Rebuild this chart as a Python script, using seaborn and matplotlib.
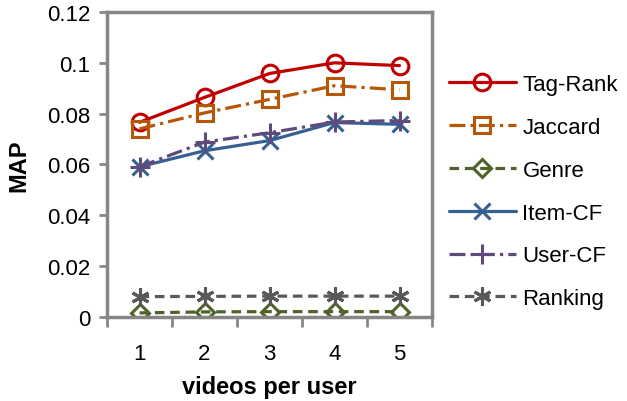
import matplotlib
matplotlib.use("Agg")
import matplotlib.pyplot as plt
import seaborn as sns
import pandas as pd
from matplotlib.ticker import FixedLocator, FuncFormatter

# data
videos = [1, 2, 3, 4, 5]
tag_rank = [0.0766, 0.0864, 0.0958, 0.1000, 0.0989]
jaccard = [0.0740, 0.0803, 0.0856, 0.0910, 0.0894]
genre = [0.0016, 0.0020, 0.0021, 0.0021, 0.0021]
item_cf = [0.0591, 0.0654, 0.0694, 0.0765, 0.0758]
user_cf = [0.0591, 0.0688, 0.0725, 0.0767, 0.0773]
ranking = [0.0080, 0.0081, 0.0082, 0.0082, 0.0082]

y_ticks = [0, 0.02, 0.04, 0.06, 0.08, 0.1, 0.12]

# name, values, colour, marker, marker size, dash pattern
series = [
    ("Tag-Rank", tag_rank, "#C00000", "o", 12, None),
    ("Jaccard", jaccard, "#B65708", "s", 11, (5, 1.6, 1, 1.6)),
    ("Genre", genre, "#4F6228", "D", 9, (3, 1.8)),
    ("Item-CF", item_cf, "#376092", "x", 12, None),
    ("User-CF", user_cf, "#604A7B", "+", 14, (5, 1.6, 1, 1.6)),
    ("Ranking", ranking, "#595959", (6, 2, 0), 13, (3, 1.8)),
]

sns.set_theme(style="white")
plt.rcParams["font.family"] = ["Liberation Sans", "DejaVu Sans"]
plt.rcParams["text.color"] = "black"
plt.rcParams["axes.labelcolor"] = "black"

fig = plt.figure(figsize=(6.27, 4.02), dpi=100)
ax = fig.add_axes([0.1707, 0.209, 0.5183, 0.7587])

for name, vals, color, marker, msize, dashes in series:
    df = pd.DataFrame({"videos": videos, "MAP": vals})
    sns.lineplot(data=df, x="videos", y="MAP", ax=ax, color=color,
                 marker=marker, markersize=msize, markeredgewidth=2.2,
                 markerfacecolor="none", markeredgecolor=color,
                 linewidth=2.3, label=name)
    if dashes is not None:
        ax.get_lines()[-1].set_dashes(dashes)

ax.set_xlim(0.5, 5.5)
ax.set_ylim(0, 0.12)
ax.xaxis.set_major_locator(FixedLocator(videos))
ax.xaxis.set_minor_locator(FixedLocator([0.5, 1.5, 2.5, 3.5, 4.5, 5.5]))
ax.yaxis.set_major_locator(FixedLocator(y_ticks))
ax.yaxis.set_major_formatter(FuncFormatter(lambda v, p: f"{v:g}"))

spine_col = "#868686"
for s in ax.spines.values():
    s.set_color(spine_col)
    s.set_linewidth(2.5)

ax.tick_params(axis="x", which="major", length=0, labelsize=16, pad=19, labelcolor="black")
ax.tick_params(axis="x", which="minor", bottom=True, length=7, width=2, color=spine_col, direction="out")
ax.tick_params(axis="y", which="major", left=True, length=6, width=2, color=spine_col,
               direction="out", labelsize=16, labelcolor="black", pad=6)

ax.set_xlabel("videos per user", fontsize=17, fontweight="bold", labelpad=8)
ax.set_ylabel("MAP", fontsize=17, fontweight="bold", labelpad=12)

ax.legend(loc="upper left", bbox_to_anchor=(0.702, 0.835), bbox_transform=fig.transFigure,
          frameon=False, fontsize=16, handlelength=3.0, handletextpad=0.3,
          labelspacing=0.98, borderaxespad=0)

fig.savefig("out.png", dpi=100)
